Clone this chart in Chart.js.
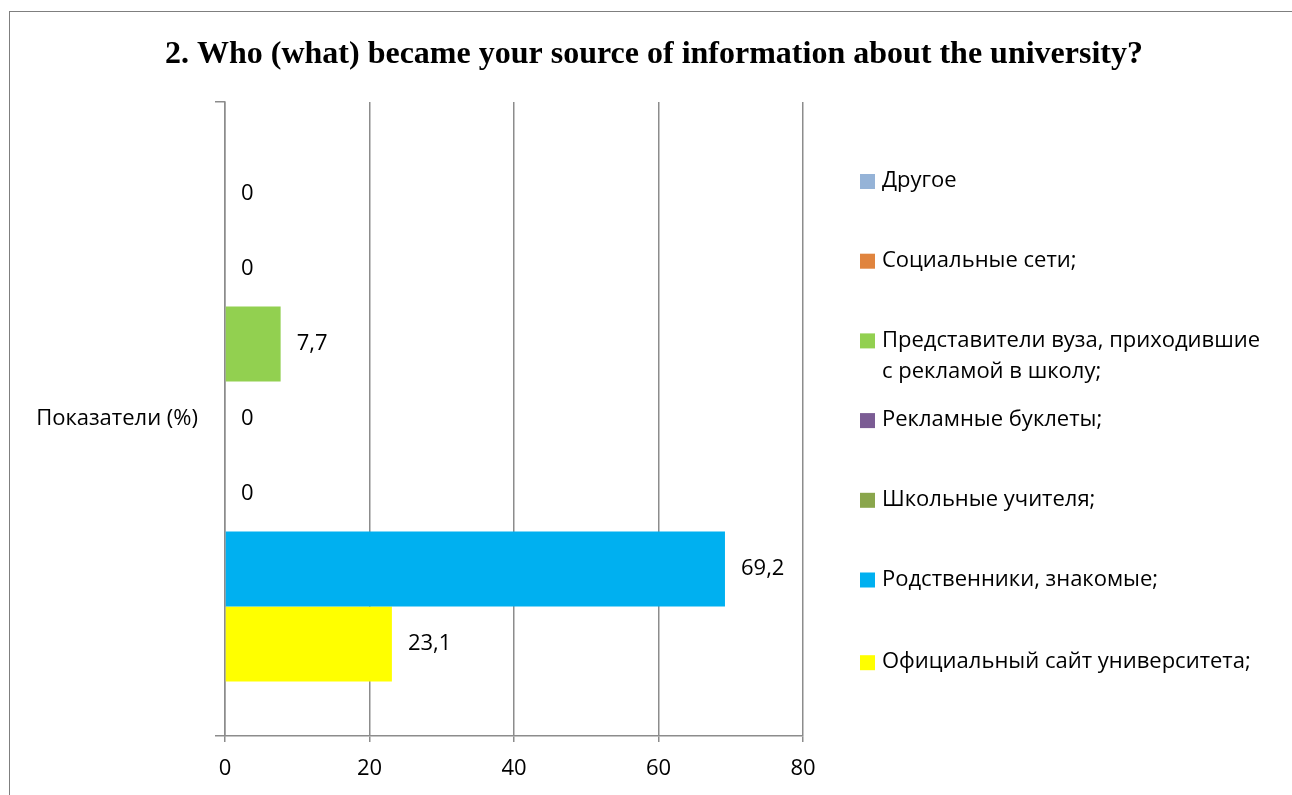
<!DOCTYPE html>
<html>
<head>
<meta charset="utf-8">
<script src="https://cdn.jsdelivr.net/npm/chart.js@4/dist/chart.umd.min.js"></script>
<style>
  html, body { margin: 0; padding: 0; background: #fff; overflow: hidden; }
  #frame { position: absolute; left: 9px; top: 11px; width: 1400px; height: 900px; border: 1px solid #7f7f7f; }
  #wrap { position: absolute; left: 0; top: 0; width: 1292px; height: 795px; }
</style>
</head>
<body>
<div id="frame"></div>
<div id="wrap"><canvas id="myChart"></canvas></div>
<script>
const categories = ['Показатели (%)'];
const seriesNames = [
  'Другое',
  'Социальные сети;',
  ['Представители вуза, приходившие', 'с рекламой в школу;'],
  'Рекламные буклеты;',
  'Школьные учителя;',
  'Родственники, знакомые;',
  'Официальный сайт университета;'
];
const seriesValues = [0, 0, 7.7, 0, 0, 69.2, 23.1];
const seriesColors = ['#95B3D7', '#E0843E', '#92D050', '#7B5C94', '#8AA64C', '#00B0F0', '#FFFF00'];
const xTicks = [0, 20, 40, 60, 80];

const chartTitle = '2. Who (what) became your source of information about the university?';
const labelFont = '22px "Open Sans", sans-serif';
const gridColor = '#8c8c8c';

// подписи значений, заголовок и легенда рисуются вручную
const extras = {
  id: 'extras',
  afterDatasetsDraw(chart) {
    const ctx = chart.ctx;
    ctx.save();
    ctx.font = labelFont;
    ctx.fillStyle = '#000';
    ctx.textAlign = 'left';
    ctx.textBaseline = 'middle';
    chart.data.datasets.forEach((ds, i) => {
      chart.getDatasetMeta(i).data.forEach((bar, j) => {
        const v = ds.data[j];
        ctx.fillText(String(v).replace('.', ','), bar.x + 16, bar.y);
      });
    });
    ctx.restore();
  },
  afterDraw(chart) {
    const ctx = chart.ctx;
    ctx.save();
    // заголовок
    ctx.font = 'bold 32px "Liberation Serif", "Times New Roman", serif';
    ctx.fillStyle = '#000';
    ctx.textAlign = 'center';
    ctx.textBaseline = 'middle';
    ctx.fillText(chartTitle, 654, 55);
    // легенда
    ctx.font = labelFont;
    ctx.textAlign = 'left';
    chart.data.datasets.forEach((ds, i) => {
      const lines = Array.isArray(ds.label) ? ds.label : [ds.label];
      const y0 = 181 + i * 79.7 + (i === 6 ? 3 : 0);
      ctx.fillStyle = ds.backgroundColor;
      ctx.fillRect(860, y0 - 7, 15, 15);
      ctx.fillStyle = '#000';
      lines.forEach((t, k) => ctx.fillText(t, 882, y0 + k * 31));
    });
    ctx.restore();
  }
};

new Chart(document.getElementById('myChart'), {
  type: 'bar',
  data: {
    labels: categories,
    datasets: seriesNames.map((name, i) => ({
      label: name,
      data: [seriesValues[i]],
      backgroundColor: seriesColors[i],
      categoryPercentage: 0.828,
      barPercentage: 1
    }))
  },
  options: {
    indexAxis: 'y',
    responsive: true,
    maintainAspectRatio: false,
    animation: false,
    layout: { padding: { top: 102, right: 489, bottom: 0, left: 0 } },
    plugins: {
      legend: { display: false },
      title: { display: false },
      tooltip: { enabled: false }
    },
    scales: {
      x: {
        min: 0,
        max: 80,
        afterBuildTicks: axis => { axis.ticks = xTicks.map(v => ({ value: v })); },
        afterFit: axis => { axis.height = 59; },
        grid: { color: gridColor, lineWidth: 1.5, tickLength: 6 },
        border: { color: gridColor, width: 1.5 },
        ticks: { color: '#000', font: { family: 'Open Sans', size: 22 }, padding: 14 }
      },
      y: {
        afterFit: axis => { axis.width = 225; },
        grid: { drawOnChartArea: false, offset: true, tickLength: 10, color: gridColor, lineWidth: 1.5 },
        border: { color: gridColor, width: 1.5 },
        ticks: { color: '#000', font: { family: 'Open Sans', size: 22 }, padding: 17 }
      }
    }
  },
  plugins: [extras]
});
</script>
</body>
</html>
